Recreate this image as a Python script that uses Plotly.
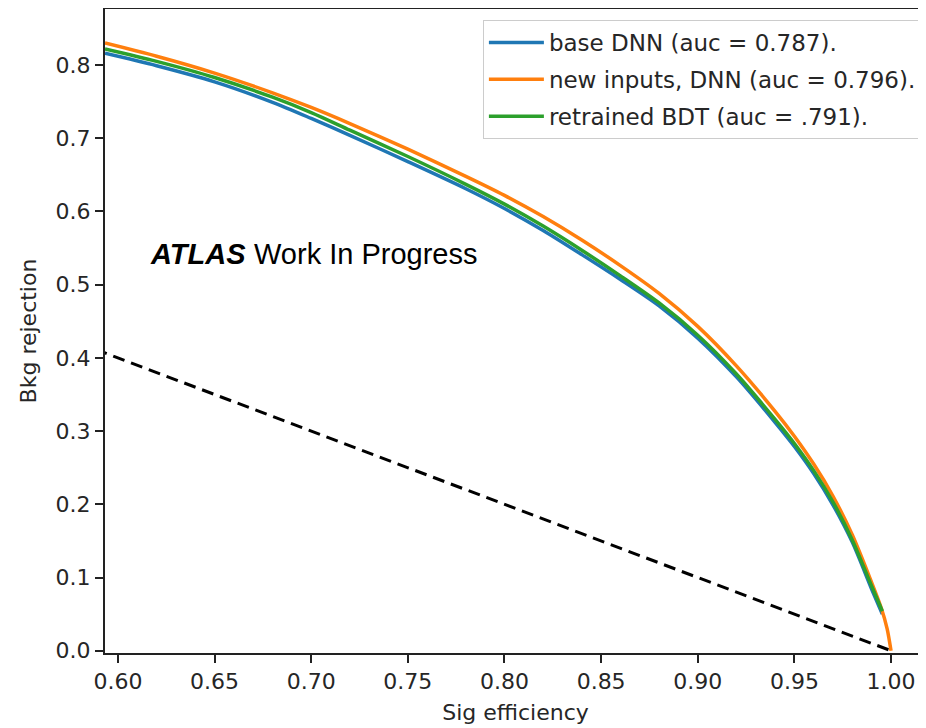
import plotly.graph_objects as go

# Signal efficiency grid (x) and background rejection (y)
sig_eff = [0.5933, 0.62, 0.65, 0.68, 0.70, 0.72, 0.75, 0.78, 0.80, 0.82, 0.84, 0.86,
           0.88, 0.90, 0.92, 0.94, 0.95, 0.96, 0.97, 0.98, 0.99, 0.9955]
base_dnn = [0.816, 0.799, 0.777, 0.749, 0.727, 0.704, 0.668, 0.631, 0.604, 0.574, 0.541,
            0.507, 0.471, 0.427, 0.374, 0.312, 0.279, 0.242, 0.199, 0.148, 0.084, 0.050]
bdt = [0.822, 0.805, 0.783, 0.756, 0.735, 0.711, 0.675, 0.637, 0.610, 0.580, 0.547,
       0.512, 0.475, 0.431, 0.378, 0.316, 0.283, 0.246, 0.203, 0.151, 0.088, 0.054]

sig_eff_new = [0.5933, 0.62, 0.65, 0.68, 0.70, 0.72, 0.75, 0.78, 0.80, 0.82, 0.84, 0.86,
               0.88, 0.90, 0.92, 0.94, 0.95, 0.96, 0.97, 0.98, 0.99, 0.995, 0.998, 1.0]
new_dnn = [0.830, 0.812, 0.789, 0.762, 0.742, 0.720, 0.685, 0.648, 0.622, 0.593, 0.561,
           0.526, 0.488, 0.443, 0.389, 0.327, 0.293, 0.255, 0.211, 0.158, 0.093, 0.058,
           0.030, 0.0]

diag_x = [0.0, 1.0]
diag_y = [1.0, 0.0]

labels = ["base DNN (auc = 0.787).", "new inputs, DNN (auc = 0.796).", "retrained BDT (auc = .791)."]
colors = ["#1f77b4", "#ff7f0e", "#2ca02c"]

fig = go.Figure()
fig.add_trace(go.Scatter(x=diag_x, y=diag_y, mode="lines", showlegend=False,
                         line=dict(color="black", width=3, dash="12px,7px")))
fig.add_trace(go.Scatter(x=sig_eff, y=base_dnn, mode="lines", name=labels[0], legendgroup="a",
                         line=dict(color=colors[0], width=3.5, shape="spline", smoothing=0.8)))
fig.add_trace(go.Scatter(x=sig_eff_new, y=new_dnn, mode="lines", name=labels[1], legendgroup="b",
                         line=dict(color=colors[1], width=3.5, shape="spline", smoothing=0.8)))
fig.add_trace(go.Scatter(x=sig_eff, y=bdt, mode="lines", name=labels[2], legendgroup="c",
                         line=dict(color=colors[2], width=3.5, shape="spline", smoothing=0.8)))

fig.add_annotation(x=0.6155, y=0.542, xref="x", yref="y", xanchor="left", yanchor="middle",
                   text="<b><i>ATLAS</i></b>", showarrow=False,
                   font=dict(family="Liberation Sans", size=29, color="black"))
fig.add_annotation(x=0.6694, y=0.542, xref="x", yref="y", xanchor="left", yanchor="middle",
                   text="Work In Progress", showarrow=False,
                   font=dict(family="Liberation Sans", size=29, color="black"))

tickfont = dict(family="DejaVu Sans", size=22, color="#262626")
fig.update_layout(
    width=918, height=720,
    margin=dict(l=97, r=0, t=1, b=75, autoexpand=False),
    plot_bgcolor="white", paper_bgcolor="white",
    showlegend=True,
    legend=dict(x=0.995, y=0.983, xanchor="right", yanchor="top",
                bgcolor="white", bordercolor="#cccccc", borderwidth=1,
                font=dict(family="DejaVu Sans", size=23, color="#262626"),
                itemwidth=55,
                traceorder="grouped", tracegroupgap=4),
    xaxis=dict(range=[0.5933, 1.0181], tickvals=[0.60, 0.65, 0.70, 0.75, 0.80, 0.85, 0.90, 0.95, 1.00],
               ticktext=["0.60", "0.65", "0.70", "0.75", "0.80", "0.85", "0.90", "0.95", "1.00"],
               showgrid=False, zeroline=False, showline=True, linecolor="#222", linewidth=2,
               mirror=True, ticks="outside", ticklen=8, tickwidth=2, tickcolor="#222",
               tickfont=tickfont, automargin=False,
               title=dict(text="Sig efficiency", font=tickfont, standoff=11)),
    yaxis=dict(range=[-0.0031, 0.8765], tickvals=[0.0, 0.1, 0.2, 0.3, 0.4, 0.5, 0.6, 0.7, 0.8],
               ticktext=["0.0", "0.1", "0.2", "0.3", "0.4", "0.5", "0.6", "0.7", "0.8"],
               showgrid=False, zeroline=False, showline=True, linecolor="#222", linewidth=2,
               mirror=False, ticks="outside", ticklen=8, tickwidth=2, tickcolor="#222",
               tickfont=tickfont, automargin=False,
               title=dict(text="Bkg rejection", font=tickfont, standoff=13)),
)

fig.write_html("out.html")
